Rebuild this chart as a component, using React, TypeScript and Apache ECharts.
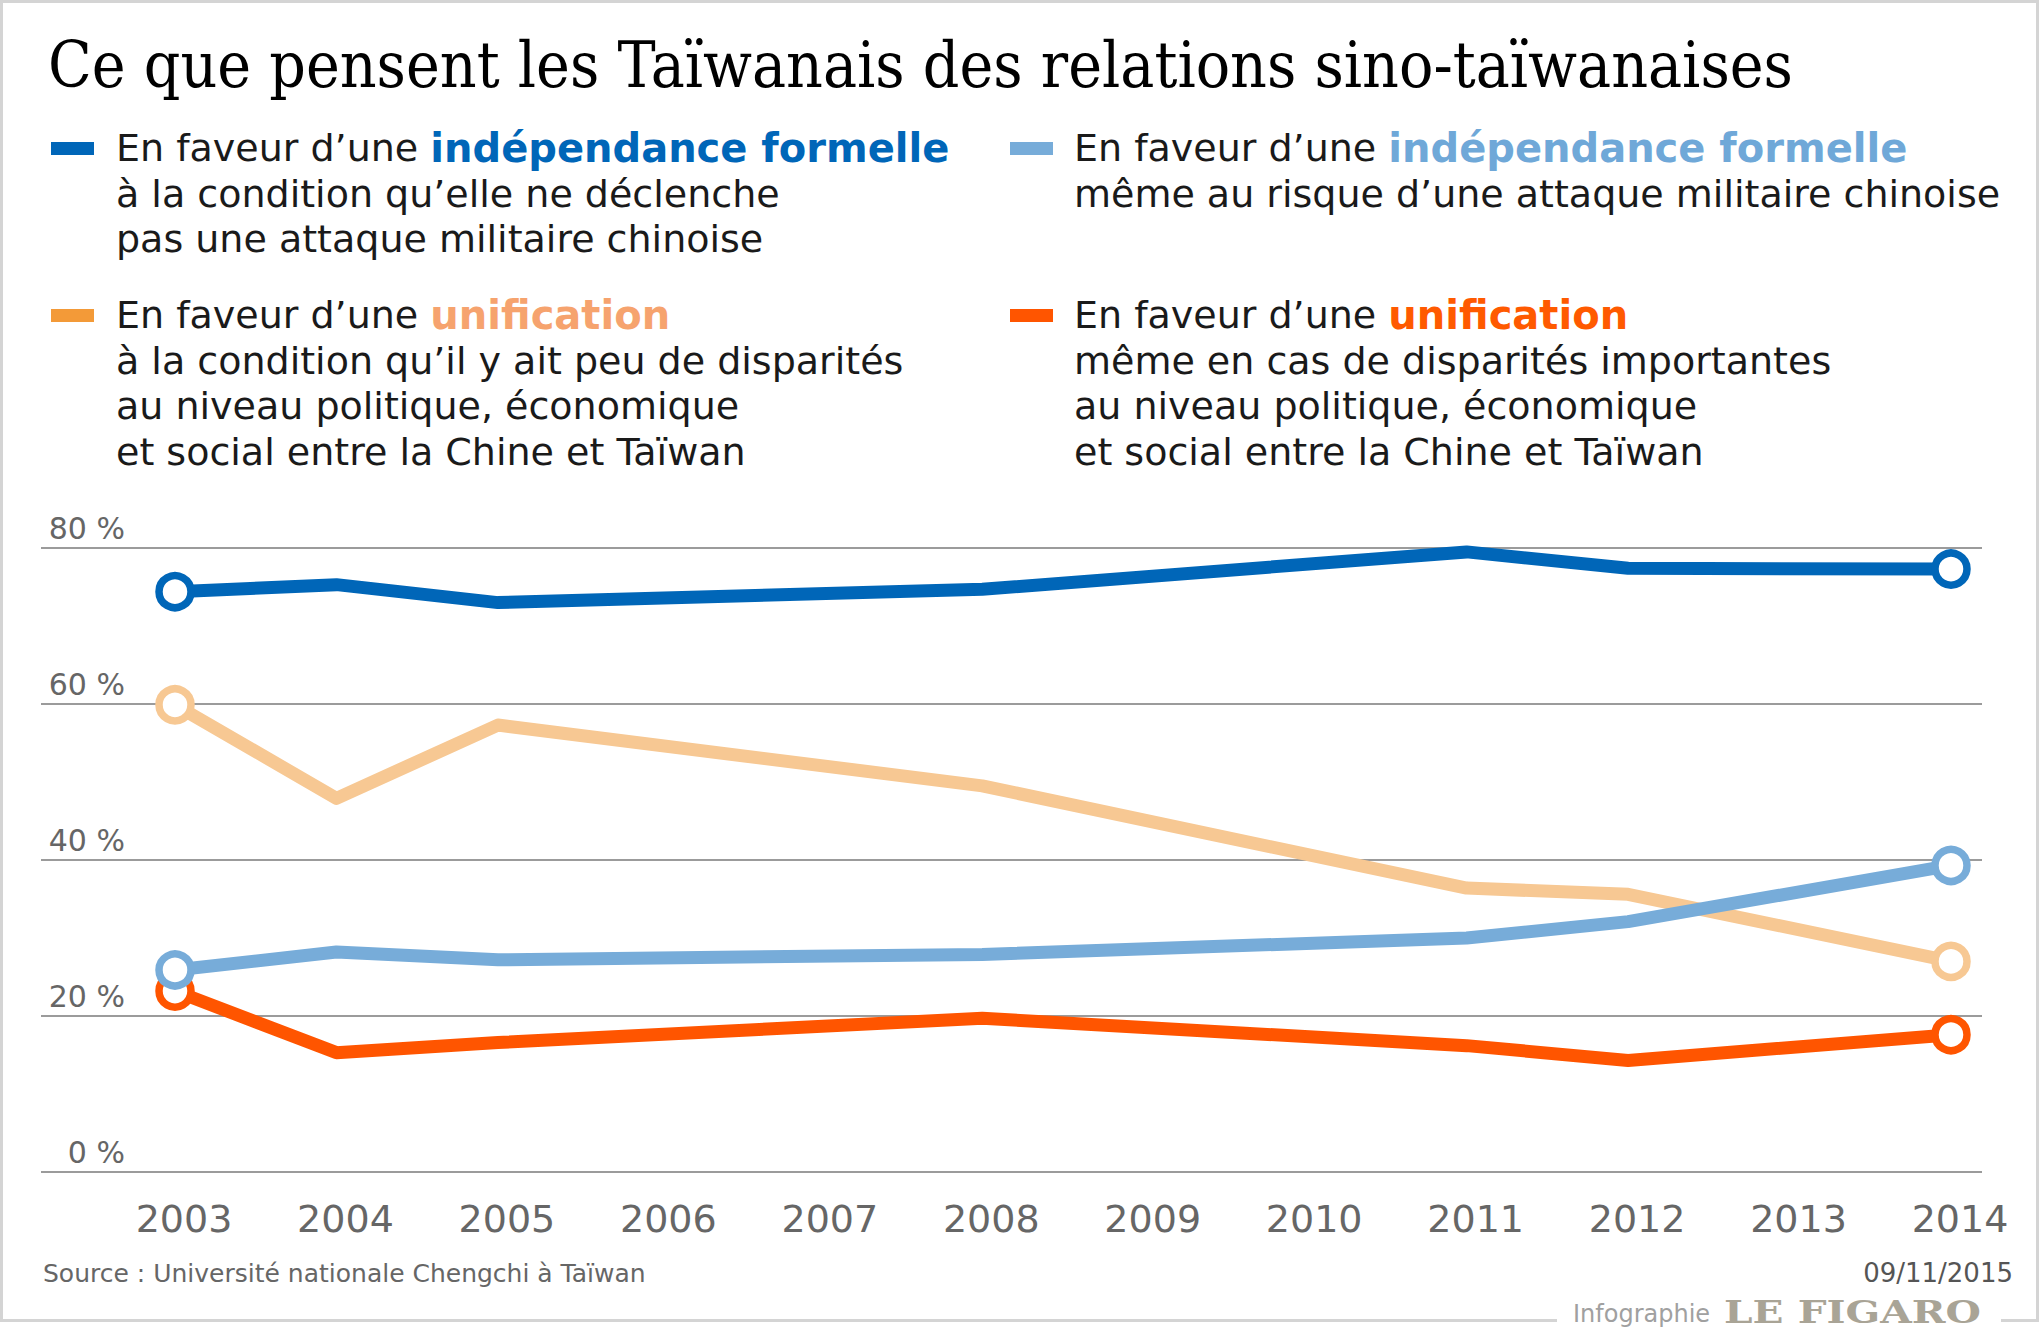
import React, { useEffect, useRef } from 'react';
import * as echarts from 'echarts';

// ---- data (null = no survey that year) ----
const years = ['2003', '2004', '2005', '2006', '2007', '2008', '2009', '2010', '2011', '2012', '2013', '2014'];
const indepConditional = [74.4, 75.3, 73.0, null, null, 74.7, null, null, 79.5, 77.4, null, 77.3];
const indepAnyway = [25.9, 28.2, 27.2, null, null, 27.9, null, null, 30.0, 32.1, null, 39.3];
const unifConditional = [59.9, 47.9, 57.3, null, null, 49.5, null, null, 36.4, 35.6, null, 27.0];
const unifAnyway = [23.2, 15.3, 16.6, null, null, 19.7, null, null, 16.2, 14.3, null, 17.6];
const yMin = 0;
const yMax = 80;
const yStep = 20;

const SANS = "'DejaVu Sans', Verdana, sans-serif";
const SERIF = "'DejaVu Serif Condensed', 'DejaVu Serif', serif";

const C_DARKBLUE = '#0066b8';
const C_LIGHTBLUE = '#77acd9';
const C_LIGHTORANGE = '#f7c893';
const C_DARKORANGE = '#ff5500';

const LEG = 38;

function line(text: string, x: number, baseline: number, size: number, opts: any = {}) {
  const el: any = {
    type: 'text',
    x,
    y: baseline - 0.35 * size,
    z: 10,
    style: {
      text,
      fontSize: size,
      fontFamily: opts.fontFamily || SANS,
      fontWeight: opts.fontWeight || 'normal',
      fill: opts.fill || '#1a1a1a',
      align: opts.align || 'left',
      verticalAlign: 'middle',
      rich: opts.rich,
    },
  };
  if (opts.scaleX) {
    el.scaleX = opts.scaleX;
  }
  return el;
}

function richLine(prefix: string, word: string, color: string, x: number, baseline: number) {
  return line(prefix + '{b|' + word + '}', x, baseline, LEG, {
    rich: {
      b: { fontSize: 40, fontFamily: SANS, fontWeight: 'bold', fill: color, color },
    },
  });
}

export default function App() {
  const ref = useRef<HTMLDivElement>(null);
  useEffect(() => {
    document.body.style.margin = '0';
    const chart = echarts.init(ref.current!, null, { renderer: 'svg' });
    const sym = (_v: any, p: any) => (p.dataIndex === 0 || p.dataIndex === years.length - 1 ? 32 : 0);
    const mkSeries = (name: string, data: any[], color: string) => ({
      name,
      type: 'line',
      xAxisIndex: 0,
      yAxisIndex: 0,
      data,
      connectNulls: true,
      symbol: 'circle',
      symbolSize: sym,
      showAllSymbol: true,
      lineStyle: { color, width: 13, join: 'round' },
      itemStyle: { color: '#ffffff', borderColor: color, borderWidth: 7.5 },
      emphasis: { disabled: true },
    });
    chart.setOption({
      animation: false,
      backgroundColor: '#ffffff',
      grid: [
        { left: 175, right: 89, top: 548, bottom: 164 },
        { left: 41, right: 58, top: 548, bottom: 164 },
      ],
      xAxis: [
        {
          gridIndex: 0,
          type: 'category',
          data: years,
          boundaryGap: false,
          axisLine: { show: false },
          axisTick: { show: false },
          axisLabel: {
            fontSize: 38,
            fontFamily: SANS,
            color: '#666666',
            margin: 28,
            padding: [0, 0, 0, 18],
          },
        },
        { gridIndex: 1, type: 'value', show: false, min: 0, max: 1 },
      ],
      yAxis: [
        { gridIndex: 0, type: 'value', min: yMin, max: yMax, interval: yStep, show: false },
        {
          gridIndex: 1,
          type: 'value',
          min: yMin,
          max: yMax,
          interval: yStep,
          position: 'left',
          offset: -84,
          axisLine: { show: false },
          axisTick: { show: false },
          splitLine: { show: true, lineStyle: { color: '#7a7a7a', width: 1.5 } },
          axisLabel: {
            formatter: '{value} %',
            fontSize: 30,
            fontFamily: SANS,
            color: '#666666',
            margin: 0,
            align: 'right',
            verticalAlign: 'bottom',
            lineHeight: 40,
          },
        },
      ],
      series: [
        mkSeries('Unification même en cas de disparités', unifAnyway, C_DARKORANGE),
        mkSeries('Unification à condition', unifConditional, C_LIGHTORANGE),
        mkSeries('Indépendance à condition', indepConditional, C_DARKBLUE),
        mkSeries('Indépendance même au risque', indepAnyway, C_LIGHTBLUE),
      ],
      graphic: [
        // frame
        {
          type: 'rect',
          shape: { x: 1.5, y: 1.5, width: 2036, height: 1319 },
          style: { fill: 'none', stroke: '#d4d4d4', lineWidth: 3 },
          z: 1,
        },
        {
          type: 'rect',
          shape: { x: 1557, y: 1310, width: 444, height: 22 },
          style: { fill: '#ffffff' },
          z: 2,
        },
        // title
        line('Ce que pensent les Taïwanais des relations sino-taïwanaises', 48, 87, 63.6, {
          fontFamily: SERIF,
          fill: '#000000',
        }),
        // legend swatches
        { type: 'rect', shape: { x: 51, y: 142, width: 43, height: 13 }, style: { fill: C_DARKBLUE }, z: 10 },
        { type: 'rect', shape: { x: 51, y: 309, width: 43, height: 13 }, style: { fill: '#f39a38' }, z: 10 },
        { type: 'rect', shape: { x: 1010, y: 142, width: 43, height: 13 }, style: { fill: C_LIGHTBLUE }, z: 10 },
        { type: 'rect', shape: { x: 1010, y: 309, width: 43, height: 13 }, style: { fill: C_DARKORANGE }, z: 10 },
        // legend texts column 1
        richLine('En faveur d’une ', 'indépendance formelle', C_DARKBLUE, 116, 161),
        line('à la condition qu’elle ne déclenche', 116, 207, LEG),
        line('pas une attaque militaire chinoise', 116, 252, LEG),
        richLine('En faveur d’une ', 'unification', '#f6a36e', 116, 328),
        line('à la condition qu’il y ait peu de disparités', 116, 374, LEG),
        line('au niveau politique, économique', 116, 419, LEG),
        line('et social entre la Chine et Taïwan', 116, 465, LEG),
        // legend texts column 2
        richLine('En faveur d’une ', 'indépendance formelle', '#6fa8d8', 1074, 161),
        line('même au risque d’une attaque militaire chinoise', 1074, 207, LEG),
        richLine('En faveur d’une ', 'unification', '#ff5a00', 1074, 328),
        line('même en cas de disparités importantes', 1074, 374, LEG),
        line('au niveau politique, économique', 1074, 419, LEG),
        line('et social entre la Chine et Taïwan', 1074, 465, LEG),
        // footer
        line('Source : Université nationale Chengchi à Taïwan', 43, 1282, 25, { fill: '#666666' }),
        line('09/11/2015', 2013, 1282, 26, { fill: '#555555', align: 'right' }),
        line('Infographie', 1573, 1322, 24, { fill: '#a0a0a0' }),
        line('LE FIGARO', 1724, 1323, 32, {
          fill: '#a9a496',
          fontWeight: 'bold',
          fontFamily: "'DejaVu Serif', serif",
          scaleX: 1.27,
        }),
      ],
    });
    return () => chart.dispose();
  }, []);
  return <div ref={ref} style={{ width: 2040, height: 1336 }} />;
}
